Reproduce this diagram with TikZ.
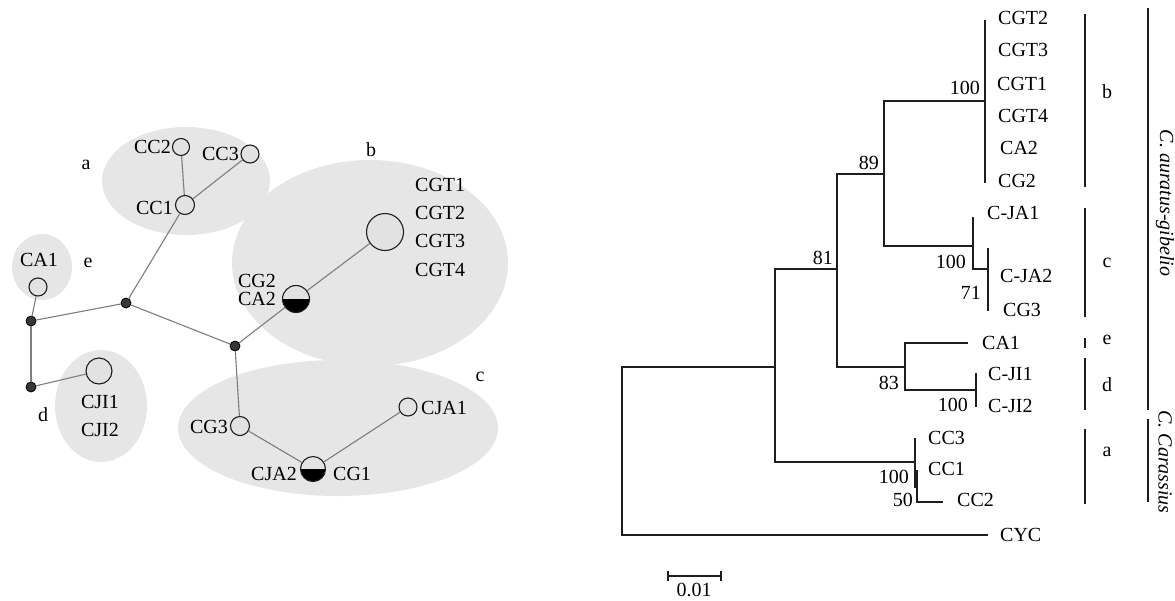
\documentclass[tikz,border=0pt]{standalone}
\usepackage{fontspec}
\setmainfont{Liberation Serif}
\definecolor{blobgray}{RGB}{230,230,230}
\definecolor{hapfill}{RGB}{226,226,226}
\definecolor{netgray}{RGB}{125,125,125}
\definecolor{dotfill}{RGB}{55,55,55}
\definecolor{ink}{RGB}{30,30,30}
\begin{document}
\begin{tikzpicture}[x=1pt,y=-1pt,
  blob/.style={fill=blobgray,draw=none},
  hap/.style={circle,draw=ink,line width=1.1pt,fill=hapfill,inner sep=0pt,minimum size=#1},
  hap/.default=18pt,
  half/.style={hap=#1,path picture={\fill[black] (path picture bounding box.west) rectangle (path picture bounding box.south east);}},
  jdot/.style={circle,draw=black,line width=0.8pt,fill=dotfill,inner sep=0pt,minimum size=10pt},
  net/.style={draw=netgray,line width=1.1pt},
  lab/.style={inner sep=0pt,font=\fontsize{20}{24}\selectfont,text height=13.2pt,text depth=0pt},
  letter/.style={inner sep=0pt,font=\fontsize{20}{24}\selectfont},
  tree/.style={draw=ink,line width=1.2pt},
  bar/.style={draw=ink,line width=1.2pt},
  sp/.style={inner sep=0pt,font=\fontsize{20}{24}\selectfont\itshape,rotate=-90}
]
\useasboundingbox (0,0) rectangle (1175,600);

% ---------------- haplotype network ----------------
% group shading
\fill[blob] (186,181) ellipse [x radius=84, y radius=54];
\fill[blob] (370,263) ellipse [x radius=138, y radius=103];
\fill[blob] (338,428) ellipse [x radius=160, y radius=68];
\fill[blob] (42,267) ellipse [x radius=30, y radius=33];
\fill[blob] (101,406) ellipse [x radius=46, y radius=56];

% haplotypes
\node[hap=17pt] (CC2n) at (181,147) {};
\node[hap=18pt] (CC3n) at (250,154) {};
\node[hap=19pt] (CC1n) at (185,205) {};
\node[hap=18pt] (CA1n) at (38,287) {};
\node[hap=26pt] (CJIn) at (99,371) {};
\node[hap=37pt] (CGTn) at (385,232) {};
\node[half=27pt] (CA2n) at (296,299) {};
\node[hap=19pt] (CG3n) at (240,426) {};
\node[half=25pt] (CJA2n) at (313,469) {};
\node[hap=18pt] (CJA1n) at (408,407) {};

% median vectors
\node[jdot] (J1) at (126,303) {};
\node[jdot] (J2) at (235,346) {};
\node[jdot] (JA) at (31,321) {};
\node[jdot] (JB) at (31,387) {};

% links
\draw[net] (CA1n) -- (JA);
\draw[net] (JA) -- (J1);
\draw[net] (JA) -- (JB);
\draw[net] (JB) -- (CJIn);
\draw[net] (J1) -- (CC1n);
\draw[net] (CC1n) -- (CC2n);
\draw[net] (CC1n) -- (CC3n);
\draw[net] (J1) -- (J2);
\draw[net] (J2) -- (CA2n);
\draw[net] (CA2n) -- (CGTn);
\draw[net] (J2) -- (CG3n);
\draw[net] (CG3n) -- (CJA2n);
\draw[net] (CJA2n) -- (CJA1n);

% haplotype names
\node[lab,anchor=east] (lCC2) at (171,147) {CC2};
\node[lab,anchor=east] (lCC3) at (239,154) {CC3};
\node[lab,anchor=east] (lCC1) at (173,208) {CC1};
\node[lab] (lCA1) at (39,260) {CA1};
\node[lab,anchor=west] (lCGT1) at (415,185) {CGT1};
\node[lab,anchor=west] (lCGT2) at (415,213) {CGT2};
\node[lab,anchor=west] (lCGT3) at (415,241) {CGT3};
\node[lab,anchor=west] (lCGT4) at (415,270) {CGT4};
\node[lab,anchor=east] (lCG2) at (276,281) {CG2};
\node[lab,anchor=east] (lCA2) at (276,299) {CA2};
\node[lab,anchor=east] (lCG3) at (228,427) {CG3};
\node[lab,anchor=west] (lCJA1) at (421,408) {CJA1};
\node[lab,anchor=east] (lCJA2) at (297,474) {CJA2};
\node[lab,anchor=west] (lCG1) at (333,474) {CG1};
\node[lab] (lCJI1) at (100,402) {CJI1};
\node[lab] (lCJI2) at (100,430) {CJI2};

% group letters
\node[letter] (ga) at (86,165) {a};
\node[letter] (gb) at (371,150) {b};
\node[letter] (gc) at (480,377) {c};
\node[letter] (gd) at (43,415) {d};
\node[letter] (ge) at (88,263) {e};

% ---------------- neighbour-joining tree ----------------
\coordinate (rt) at (622,367);
\coordinate (n775) at (775,367);
\coordinate (n81) at (837,269);
\coordinate (n89) at (884,174);
\coordinate (nb) at (985,101);
\coordinate (nbt) at (985,20);
\coordinate (nbb) at (985,183);
\coordinate (nc) at (973,246);
\coordinate (nct) at (973,217);
\coordinate (ncb) at (973,269);
\coordinate (nc2) at (988,269);
\coordinate (nc2t) at (988,248);
\coordinate (nc2b) at (988,311);
\coordinate (n83) at (905,367);
\coordinate (tca1) at (968,343);
\coordinate (nd) at (976,390);
\coordinate (ndt) at (976,373);
\coordinate (ndb) at (976,407);
\coordinate (na) at (915,462);
\coordinate (nat) at (915,438);
\coordinate (nab) at (915,488);
\coordinate (na2t) at (917,470);
\coordinate (na2b) at (917,502);
\coordinate (tcc2) at (943,502);
\coordinate (tcyc) at (988,535);

\draw[tree] (n775) -- (rt) |- (tcyc);
\draw[tree] (n81) -| (n775) |- (na);
\draw[tree] (n89) -| (n81) |- (n83);
\draw[tree] (nb) -| (n89) |- (nc);
\draw[tree] (nbt) -- (nbb);
\draw[tree] (nct) -- (ncb) -- (nc2);
\draw[tree] (nc2t) -- (nc2b);
\draw[tree] (tca1) -| (n83) |- (nd);
\draw[tree] (ndt) -- (ndb);
\draw[tree] (nat) -- (nab);
\draw[tree] (na2t) -- (na2b) -- (tcc2);

% tip names
\node[lab,anchor=west] (tCGT2) at (998,18) {CGT2};
\node[lab,anchor=west] (tCGT3) at (998,50) {CGT3};
\node[lab,anchor=west] (tCGT1) at (997,84) {CGT1};
\node[lab,anchor=west] (tCGT4) at (998,116) {CGT4};
\node[lab,anchor=west] (tCA2) at (1000,148) {CA2};
\node[lab,anchor=west] (tCG2) at (998,181) {CG2};
\node[lab,anchor=west] (tCJA1) at (987,213) {C-JA1};
\node[lab,anchor=west] (tCJA2) at (1000,276) {C-JA2};
\node[lab,anchor=west] (tCG3) at (1003,310) {CG3};
\node[lab,anchor=west] (tCA1) at (982,343) {CA1};
\node[lab,anchor=west] (tCJI1) at (988,374) {C-JI1};
\node[lab,anchor=west] (tCJI2) at (988,406) {C-JI2};
\node[lab,anchor=west] (tCC3) at (928,438) {CC3};
\node[lab,anchor=west] (tCC1) at (928,469) {CC1};
\node[lab,anchor=west] (tCC2) at (957,500) {CC2};
\node[lab,anchor=west] (tCYC) at (1000,535) {CYC};

% bootstrap values
\node[lab,anchor=east] (bs1) at (980,88) {100};
\node[lab,anchor=east] (bs2) at (879,163) {89};
\node[lab,anchor=east] (bs3) at (833,258) {81};
\node[lab,anchor=east] (bs4) at (966,262) {100};
\node[lab,anchor=east] (bs5) at (981,293) {71};
\node[lab,anchor=east] (bs6) at (899,383) {83};
\node[lab,anchor=east] (bs7) at (968,405) {100};
\node[lab,anchor=east] (bs8) at (909,477) {100};
\node[lab,anchor=east] (bs9) at (913,500) {50};

% scale bar
\coordinate (sbl) at (668,576);
\coordinate (sbr) at (721,576);
\draw[tree] (sbl) -- (sbr);
\draw[tree] ([yshift=-5pt]sbl) -- ([yshift=5pt]sbl);
\draw[tree] ([yshift=-5pt]sbr) -- ([yshift=5pt]sbr);
\node[lab,anchor=north] (sbt) at (694,583) {0.01};

% clade bars and letters
\coordinate (cb1) at (1085,14);   \coordinate (cb2) at (1085,187);
\coordinate (cc1) at (1085,208);  \coordinate (cc2) at (1085,317);
\coordinate (ce1) at (1085,338);  \coordinate (ce2) at (1085,348);
\coordinate (cd1) at (1085,358);  \coordinate (cd2) at (1085,410);
\coordinate (ca1) at (1085,429);  \coordinate (ca2) at (1085,504);
\draw[bar] (cb1) -- (cb2);
\draw[bar] (cc1) -- (cc2);
\draw[bar] (ce1) -- (ce2);
\draw[bar] (cd1) -- (cd2);
\draw[bar] (ca1) -- (ca2);
\node[letter] (kb) at (1107,92) {b};
\node[letter] (kc) at (1107,263) {c};
\node[letter] (ke) at (1107,340) {e};
\node[letter] (kd) at (1107,385) {d};
\node[letter] (ka) at (1107,452) {a};

% species bars
\coordinate (s1t) at (1148,8);   \coordinate (s1b) at (1148,410);
\coordinate (s2t) at (1148,419); \coordinate (s2b) at (1148,502);
\draw[bar] (s1t) -- (s1b);
\draw[bar] (s2t) -- (s2b);
\node[sp] (sp1) at (1165,203) {C. auratus-gibelio};
\node[sp] (sp2) at (1165,462) {C. Carassius};
\end{tikzpicture}
\end{document}
